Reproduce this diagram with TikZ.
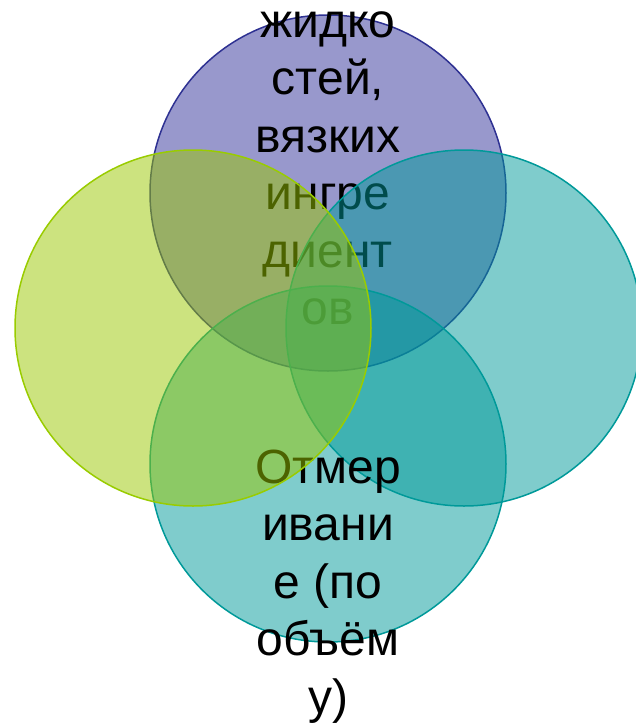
\documentclass[tikz,border=0pt]{standalone}
\usepackage{fontspec}
\setmainfont{Liberation Sans}
\definecolor{cTop}{RGB}{49,49,153}
\definecolor{cTopLine}{RGB}{46,49,146}
\definecolor{cLeft}{RGB}{153,199,0}
\definecolor{cLeftLine}{RGB}{153,204,0}
\definecolor{cTeal}{RGB}{0,153,153}
\definecolor{cTealLine}{RGB}{0,153,153}
\begin{document}
\begin{tikzpicture}[x=1pt,y=-1pt,
  venn/.style={circle,minimum size=356pt,inner sep=0pt,line width=1.5pt,fill opacity=0.5},
  vtext/.style={anchor=base,inner sep=0pt,font=\fontsize{48}{57.5}\selectfont,text=black}]
\useasboundingbox (0,0) rectangle (635,723);
% top circle
\node[venn,draw=cTopLine,fill=cTop] (ctop) at (328,193) {};
\foreach \t [count=\i] in {жидко,{стей,},вязких,ингре,диент,ов}
  \node[vtext] (top\i) at (328,{37+57.5*(\i-1)}) {\t};
% right circle
\node[venn,draw=cTealLine,fill=cTeal] (cright) at (464,328) {};
% bottom circle
\node[venn,draw=cTealLine,fill=cTeal] (cbottom) at (328,464) {};
\foreach \t [count=\i] in {Отмер,ивани,е (по,объём,у)}
  \node[vtext] (bot\i) at (328,{483+57.5*(\i-1)}) {\t};
% left circle
\node[venn,draw=cLeftLine,fill=cLeft] (cleft) at (193,328) {};
\end{tikzpicture}
\end{document}
